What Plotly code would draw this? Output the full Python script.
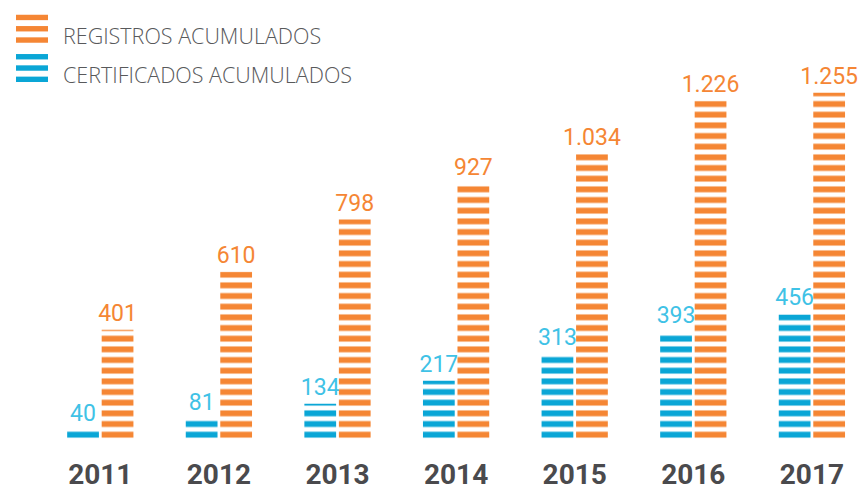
import plotly.graph_objects as go

years = ["2011", "2012", "2013", "2014", "2015", "2016", "2017"]
registros = [401, 610, 798, 927, 1034, 1226, 1255]
certificados = [40, 81, 134, 217, 313, 393, 456]
legend_names = ["REGISTROS ACUMULADOS", "CERTIFICADOS ACUMULADOS"]

ORANGE = "#F58634"
BLUE = "#0AA6D6"
BLUE_TEXT = "#3FC2E6"
GRAY = "#58595B"
DARK = "#4A4A4D"

W, H = 858, 491
L, R, T, B = 41, 0, 56, 43
PW, PH = W - L - R, H - T - B
P = 10.667
SCALE = 0.2825  # px per unit
NUMFONT = "Roboto, sans-serif"


def px_x(px):
    return (px - L) / PW


def px_y(py):
    return 1 - (py - T) / PH


def stripes(color):
    return dict(shape="-", fgcolor=color, bgcolor="white", size=P,
                solidity=0.55, fillmode="replace")


fig = go.Figure()
fig.add_trace(go.Bar(
    x=years, y=certificados, name=legend_names[1],
    marker=dict(color=BLUE, line=dict(width=0), pattern=stripes(BLUE)),
    texttemplate="%{y:,.0f}", textposition="outside", constraintext="none",
    textfont=dict(family=NUMFONT, size=23, color=BLUE_TEXT),
    cliponaxis=False, showlegend=False,
))
fig.add_trace(go.Bar(
    x=years, y=registros, name=legend_names[0],
    marker=dict(color=ORANGE, line=dict(width=0), pattern=stripes(ORANGE)),
    texttemplate="%{y:,.0f}", textposition="outside", constraintext="none",
    textfont=dict(family=NUMFONT, size=23, color=ORANGE),
    cliponaxis=False, showlegend=False,
))

shapes = []
legend_items = [(legend_names[0], ORANGE, [14, 25.5, 37], 35),
                (legend_names[1], BLUE, [54, 65.5, 77], 75)]
annotations = []
for name, col, ys, ty in legend_items:
    for y0 in ys:
        shapes.append(dict(type="rect", xref="paper", yref="paper",
                           x0=px_x(16), x1=px_x(48), y0=px_y(y0), y1=px_y(y0 + 5.5),
                           fillcolor=col, line=dict(width=0)))
    annotations.append(dict(text=name, xref="paper", yref="paper",
                            x=px_x(61), y=px_y(ty), xanchor="left", yanchor="middle",
                            showarrow=False,
                            font=dict(family="Open Sans, sans-serif", size=21.5,
                                      color=GRAY, weight=300)))

fig.update_layout(
    width=W, height=H,
    margin=dict(l=L, r=R, t=T, b=B, pad=0),
    paper_bgcolor="white", plot_bgcolor="white",
    barmode="group", bargap=0.418, bargroupgap=0.08,
    separators=",.",
    showlegend=False,
    shapes=shapes, annotations=annotations,
    xaxis=dict(range=[-0.5, -0.5 + PW / 118.6], showgrid=False, zeroline=False,
               showline=False, ticks="", ticklabelstandoff=14,
               tickfont=dict(family=NUMFONT, size=28, color=DARK, weight="bold")),
    yaxis=dict(range=[0, PH / SCALE], visible=False, showgrid=False, zeroline=False),
)

fig.write_html("out.html")
